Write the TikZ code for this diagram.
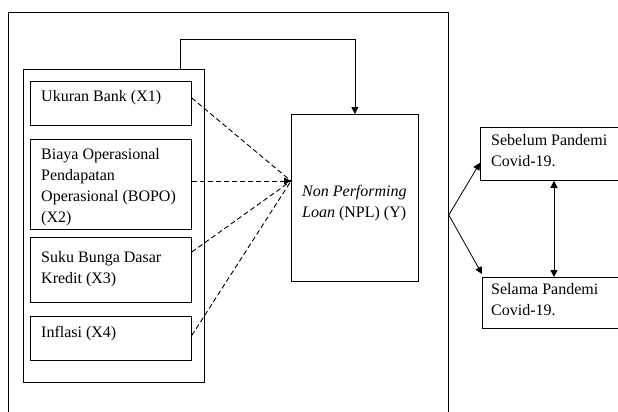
\documentclass[tikz,border=0pt]{standalone}
\usepackage{fontspec}
\setmainfont{Liberation Serif}
\usetikzlibrary{arrows.meta,calc}
\begin{document}
\begin{tikzpicture}[x=1pt,y=-1pt,
  box/.style={draw,line width=0.8pt,inner sep=0pt,anchor=north west},
  txt/.style={anchor=north west,inner sep=0pt,align=left,font=\fontsize{16}{21}\selectfont},
  arr/.style={line width=0.8pt,-{Triangle[length=7pt,width=7pt]}},
  dsh/.style={line width=0.9pt,dash pattern=on 5pt off 3pt}]
\clip (0,0) rectangle (618,412);
\fill[white] (0,0) rectangle (618,412);
% boxes
\node[box,minimum width=440pt,minimum height=440pt] (outer) at (8,12) {};
\node[box,minimum width=181pt,minimum height=313pt] (grp) at (23,69) {};
\node[box,minimum width=161pt,minimum height=44pt] (x1) at (30,81) {};
\node[box,minimum width=161pt,minimum height=90pt] (x2) at (30,139) {};
\node[box,minimum width=161pt,minimum height=65pt] (x3) at (30,237) {};
\node[box,minimum width=161pt,minimum height=44pt] (x4) at (30,316) {};
\node[box,minimum width=127pt,minimum height=167pt] (npl) at (291,114) {};
\node[box,minimum width=160pt,minimum height=53pt] (seb) at (480,127) {};
\node[box,minimum width=160pt,minimum height=51pt] (sel) at (482,277) {};
% texts
\node[txt] (t1) at ($(x1.north west)+(11,9)$) {Ukuran Bank (X1)};
\node[txt] (t2) at ($(x2.north west)+(11,9)$) {Biaya Operasional\\Pendapatan\\Operasional (BOPO)\\(X2)};
\node[txt] (t3) at ($(x3.north west)+(11,14)$) {Suku Bunga Dasar\\Kredit (X3)};
\node[txt] (t4) at ($(x4.north west)+(11,10)$) {Inflasi (X4)};
\node[txt] (tn) at ($(npl.north west)+(11,71)$) {\textit{Non Performing}\\\textit{Loan} (NPL) (Y)};
\node[txt] (ts) at ($(seb.north west)+(11,7)$) {Sebelum Pandemi\\Covid-19.};
\node[txt] (tl) at ($(sel.north west)+(9,6)$) {Selama Pandemi\\Covid-19.};
% connectors
\coordinate (c1) at (180,39);
\draw[arr] (grp.north -| c1) -- (c1) -| (npl.north);
\coordinate (conv) at ($(npl.north west)+(0,67)$);
\draw[dsh] ($(x1.north east)+(0,17)$) -- (conv);
\draw[dsh,arr] (x2.east |- conv) -- (conv);
\draw[dsh] ($(x3.north east)+(0,15)$) -- (conv);
\draw[dsh] ($(x4.east)+(0,-3)$) -- (conv);
\coordinate (fk) at ($(outer.north east)+(0,203)$);
\draw[arr] (fk) -- ($(seb.south west)+(0,-18)$);
\draw[arr] (fk) -- ($(sel.north west)+(0,-3)$);
\coordinate (dv) at (554,0);
\draw[line width=0.8pt,{Triangle[length=7pt,width=7pt]}-{Triangle[length=7pt,width=7pt]}] (seb.south -| dv) -- (sel.north -| dv);
\end{tikzpicture}
\end{document}
